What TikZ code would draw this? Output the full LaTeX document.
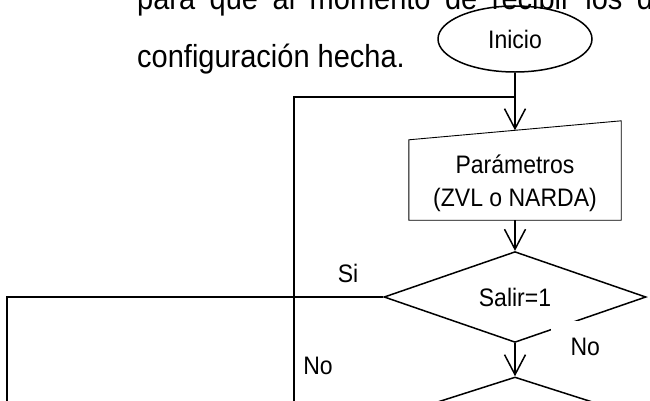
\documentclass[tikz,border=0pt]{standalone}
\usepackage{fontspec}
\setmainfont{Liberation Sans}
\usetikzlibrary{shapes.geometric,arrows.meta}
\tikzset{
  line/.style={line width=1.5pt},
  arr/.style={line width=1.5pt,-{Straight Barb[length=20pt,width=21pt]}},
  body/.style={anchor=base west,inner sep=0pt,font=\fontsize{29}{35}\selectfont},
  lab/.style={inner sep=0pt,font=\fontsize{23}{28}\selectfont},
  terminal/.style={ellipse,draw,line width=1.5pt,minimum width=154pt,minimum height=66pt,inner sep=0pt,font=\fontsize{23}{28}\selectfont},
  decision/.style={diamond,draw,line width=1.5pt,minimum width=262pt,minimum height=84pt,inner sep=0pt,font=\fontsize{23}{28}\selectfont},
}
\begin{document}
\begin{tikzpicture}[x=1pt,y=-1pt]
\clip (0,0) rectangle (650,400);
\useasboundingbox (0,0) rectangle (650,400);
% paragraph text
\node[body] (t1) at (137,9) {\scalebox{1}[1.1]{\makebox[516pt][s]{para que al momento de recibir los d}}};
\node[body] (t2) at (137,67) {\scalebox{1}[1.1]{configuración hecha.}};
% start
\node[terminal] (ini) at (515,39) {\scalebox{1}[1.1]{Inicio}};
% manual input box
\node[minimum width=212pt,minimum height=80pt,inner sep=0pt] (box) at (515,180) {};
\draw[line width=0.9pt] (box.south west) -- (box.north west) -- ([yshift=19pt]box.north east) -- (box.south east) -- cycle;
\node[lab,anchor=base] (p1) at (515,173) {\scalebox{1}[1.1]{Parámetros}};
\node[lab,anchor=base] (p2) at (515,206) {\scalebox{1}[1.1]{(ZVL o NARDA)}};
% decisions
\node[decision] (dec) at (515,297) {\scalebox{1}[1.1]{Salir=1}};
\node[decision] (dec2) at (515,419) {};
% connectors
\coordinate (j1) at (515,97);
\coordinate (loopc) at (294,97);
\coordinate (loopb) at (294,410);
\coordinate (leftc) at (7,297);
\coordinate (leftb) at (7,410);
\draw[line] (ini.south) -- (j1);
\draw[arr] (j1) -- ([yshift=9.5pt]box.north);
\draw[line] (j1) -- (loopc) -- (loopb);
\draw[arr] (box.south) -- (dec.north);
\draw[line] (dec.west) -- (leftc) -- (leftb);
\draw[arr] (dec.south) -- (dec2.north);
% labels
\node[lab] (si) at (348,273) {\scalebox{1}[1.1]{Si}};
\node[lab] (no1) at (318,366) {\scalebox{1}[1.1]{No}};
\node[lab,fill=white,anchor=north west,minimum width=68pt,minimum height=52pt] (no2) at (551,321) {\scalebox{1}[1.1]{No}};
\end{tikzpicture}
\end{document}
